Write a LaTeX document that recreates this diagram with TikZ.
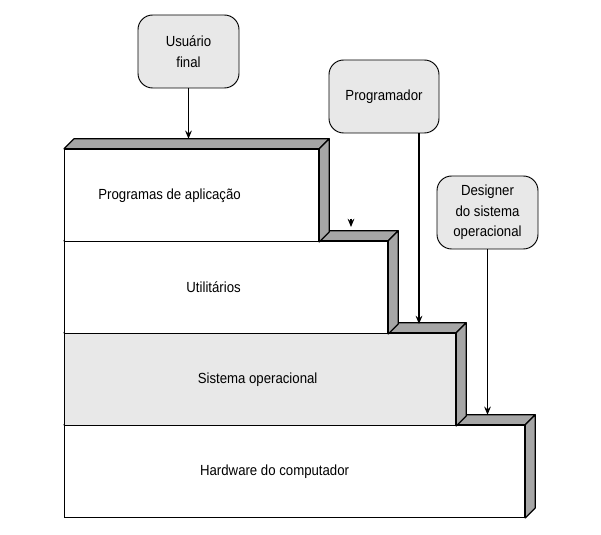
\documentclass[tikz,border=0pt]{standalone}
\usepackage{fontspec}
\setmainfont{Liberation Sans}[FakeStretch=0.9]
\usepackage{tikz}
\usetikzlibrary{arrows.meta, positioning, calc}
\definecolor{facegray}{HTML}{A6A6A6}
\definecolor{boxgray}{HTML}{E8E8E8}
\tikzstyle{layer} = [rectangle, draw=black, line width=0.9pt, inner sep=0pt,
                     minimum height=69pt, anchor=south west]
\tikzstyle{face}  = [draw=black, fill=facegray, line width=0.9pt, line join=round]
\tikzstyle{actor} = [rectangle, rounded corners=11pt, draw=black, fill=boxgray, line width=0.7pt,
                     minimum width=75.75pt, minimum height=54.75pt, align=center,
                     font=\fontsize{11}{15.5}\selectfont]
\tikzstyle{lbl}   = [font=\fontsize{11}{13}\selectfont]
\tikzstyle{arrow} = [-{Stealth[length=2.2mm, width=1.8mm, inset=0.8mm]}, line width=0.8pt]

\begin{document}
\begin{tikzpicture}[x=0.75pt, y=0.75pt]
    \useasboundingbox (0,0) rectangle (601,535);

    % steps, bottom to top
    \foreach \n/\w/\y/\c in {hw/345/17/white, so/293.25/109/boxgray, util/242.25/201/white, app/190.5/293/white} {
        \node (\n) [layer, minimum width=\w pt, fill=\c] at (64,\y) {};
        \draw[face] (\n.north west) -- ++(10,10) -- ($(\n.north east)+(10,10)$) -- (\n.north east) -- cycle;
        \draw[face] (\n.north east) -- ++(10,10) -- ($(\n.south east)+(10,10)$) -- (\n.south east) -- cycle;
    }

    \node (applbl)  [lbl] at ($(app.center)+(-22,0)$)   {Programas de aplicação};
    \node (utillbl) [lbl] at ($(util.center)+(-12.5,0)$) {Utilitários};
    \node (solbl)   [lbl] at ($(so.center)+(-2.5,0)$)    {Sistema operacional};
    \node (hwlbl)   [lbl] at ($(hw.center)+(-20,0)$)     {Hardware do computador};

    % users of each level
    \node (user) [actor] at (188.5,483.5) {Usuário\\final};
    \node (prog) [actor, minimum width=82.5pt] at (384,438.5) {Programador};
    \node (des)  [actor] at (487.5,322.5) {Designer\\do sistema\\operacional};

    \coordinate (userend) at ($(app.north west)+(0,10)$);
    \coordinate (progend) at (419,211);
    \coordinate (desend)  at ($(hw.north west)+(0,10)$);
    \coordinate (stubtop) at (351,316.3);
    \coordinate (stubend) at (351,308);

    \draw[arrow] (user.south) -- (user.south |- userend);
    \draw[arrow] (prog.south -| progend) -- (progend);
    \draw[arrow] (des.south) -- (des.south |- desend);
    \draw[arrow] (stubtop) -- (stubend);
\end{tikzpicture}
\end{document}
